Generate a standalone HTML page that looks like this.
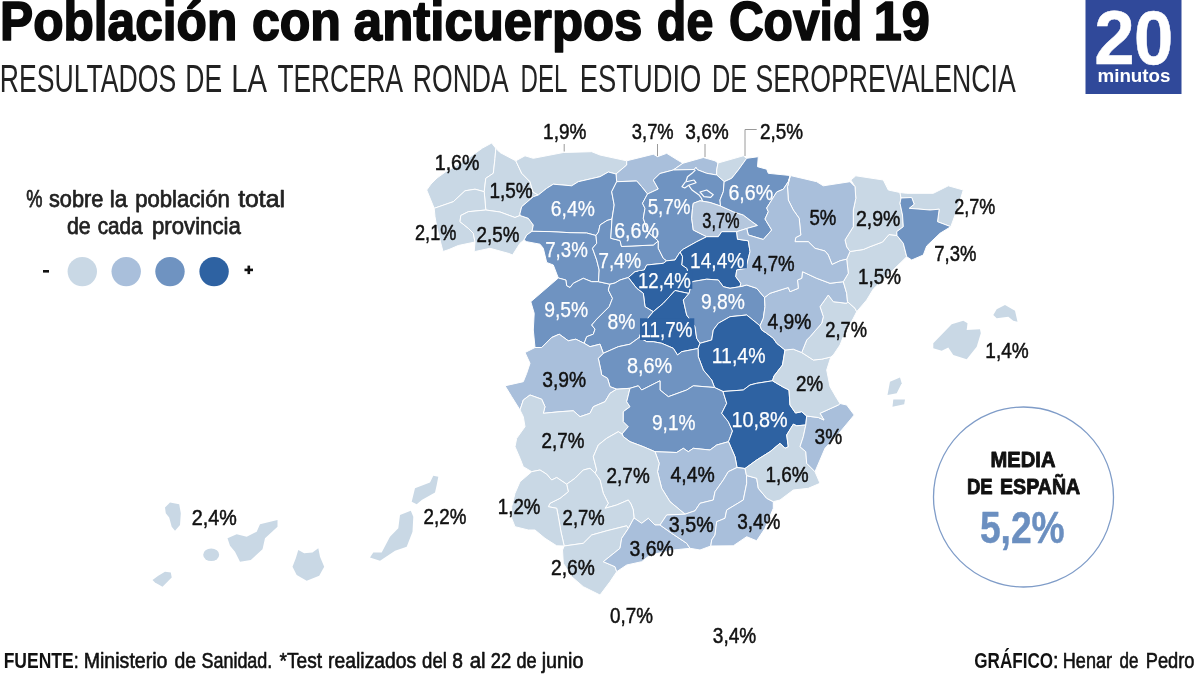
<!DOCTYPE html><html><head><meta charset="utf-8"><title>Población con anticuerpos de Covid 19</title>
<style>html,body{margin:0;padding:0;background:#fff}svg{display:block}text{font-family:"Liberation Sans",sans-serif}</style></head><body>
<svg width="1200" height="675" viewBox="0 0 1200 675">
<rect width="1200" height="675" fill="#fff"/>
<text x="0.03" y="39.80" font-size="54.6" font-weight="bold" fill="#0a0a0a" stroke="#0a0a0a" stroke-width="1.70" stroke-linejoin="round" textLength="237.20" lengthAdjust="spacingAndGlyphs">Población</text>
<text x="251.89" y="39.80" font-size="54.6" font-weight="bold" fill="#0a0a0a" stroke="#0a0a0a" stroke-width="1.70" stroke-linejoin="round" textLength="89.06" lengthAdjust="spacingAndGlyphs">con</text>
<text x="353.86" y="39.80" font-size="54.6" font-weight="bold" fill="#0a0a0a" stroke="#0a0a0a" stroke-width="1.70" stroke-linejoin="round" textLength="288.58" lengthAdjust="spacingAndGlyphs">anticuerpos</text>
<text x="656.87" y="39.80" font-size="54.6" font-weight="bold" fill="#0a0a0a" stroke="#0a0a0a" stroke-width="1.70" stroke-linejoin="round" textLength="56.44" lengthAdjust="spacingAndGlyphs">de</text>
<text x="728.88" y="39.80" font-size="54.6" font-weight="bold" fill="#0a0a0a" stroke="#0a0a0a" stroke-width="1.70" stroke-linejoin="round" textLength="133.44" lengthAdjust="spacingAndGlyphs">Covid</text>
<text x="873.68" y="39.80" font-size="54.6" font-weight="bold" fill="#0a0a0a" stroke="#0a0a0a" stroke-width="1.70" stroke-linejoin="round" textLength="56.04" lengthAdjust="spacingAndGlyphs">19</text>
<text x="-0.13" y="91.80" font-size="38" fill="#222" textLength="176.33" lengthAdjust="spacingAndGlyphs">RESULTADOS</text>
<text x="185.33" y="91.80" font-size="38" fill="#222" textLength="36.81" lengthAdjust="spacingAndGlyphs">DE</text>
<text x="231.30" y="91.80" font-size="38" fill="#222" textLength="35.76" lengthAdjust="spacingAndGlyphs">LA</text>
<text x="277.41" y="91.80" font-size="38" fill="#222" textLength="125.64" lengthAdjust="spacingAndGlyphs">TERCERA</text>
<text x="412.82" y="91.80" font-size="38" fill="#222" textLength="95.93" lengthAdjust="spacingAndGlyphs">RONDA</text>
<text x="520.53" y="91.80" font-size="38" fill="#222" textLength="46.77" lengthAdjust="spacingAndGlyphs">DEL</text>
<text x="579.76" y="91.80" font-size="38" fill="#222" textLength="121.55" lengthAdjust="spacingAndGlyphs">ESTUDIO</text>
<text x="711.92" y="91.80" font-size="38" fill="#222" textLength="35.16" lengthAdjust="spacingAndGlyphs">DE</text>
<text x="755.50" y="91.80" font-size="38" fill="#222" textLength="260.25" lengthAdjust="spacingAndGlyphs">SEROPREVALENCIA</text>
<rect x="1085.5" y="0" width="96" height="94" fill="#30499a"/>
<text x="1094.23" y="63.60" font-size="76" font-weight="bold" fill="#fff" stroke="#fff" stroke-width="0.50" stroke-linejoin="round" textLength="40.43" lengthAdjust="spacingAndGlyphs">2</text>
<text x="1133.96" y="63.60" font-size="76" font-weight="bold" fill="#fff" stroke="#fff" stroke-width="0.50" stroke-linejoin="round" textLength="39.29" lengthAdjust="spacingAndGlyphs">0</text>
<text x="1097.46" y="82.20" font-size="18.5" font-weight="bold" fill="#fff" textLength="73.11" lengthAdjust="spacingAndGlyphs">minutos</text>
<text x="26.22" y="207.20" font-size="24.5" fill="#222" stroke="#222" stroke-width="0.75" stroke-linejoin="round" textLength="16.25" lengthAdjust="spacingAndGlyphs">%</text>
<text x="48.97" y="207.20" font-size="24.5" fill="#222" stroke="#222" stroke-width="0.75" stroke-linejoin="round" textLength="54.42" lengthAdjust="spacingAndGlyphs">sobre</text>
<text x="109.85" y="207.20" font-size="24.5" fill="#222" stroke="#222" stroke-width="0.75" stroke-linejoin="round" textLength="17.57" lengthAdjust="spacingAndGlyphs">la</text>
<text x="135.15" y="207.20" font-size="24.5" fill="#222" stroke="#222" stroke-width="0.75" stroke-linejoin="round" textLength="94.71" lengthAdjust="spacingAndGlyphs">población</text>
<text x="238.20" y="207.20" font-size="24.5" fill="#222" stroke="#222" stroke-width="0.75" stroke-linejoin="round" textLength="46.78" lengthAdjust="spacingAndGlyphs">total</text>
<text x="66.88" y="234.40" font-size="24.5" fill="#222" stroke="#222" stroke-width="0.75" stroke-linejoin="round" textLength="23.69" lengthAdjust="spacingAndGlyphs">de</text>
<text x="97.69" y="234.40" font-size="24.5" fill="#222" stroke="#222" stroke-width="0.75" stroke-linejoin="round" textLength="44.93" lengthAdjust="spacingAndGlyphs">cada</text>
<text x="151.94" y="234.40" font-size="24.5" fill="#222" stroke="#222" stroke-width="0.75" stroke-linejoin="round" textLength="88.88" lengthAdjust="spacingAndGlyphs">provincia</text>
<circle cx="82.3" cy="271.6" r="14.7" fill="#c9d8e5"/>
<circle cx="126.2" cy="271.6" r="14.7" fill="#a9bfdb"/>
<circle cx="170.0" cy="271.6" r="14.7" fill="#6f93c1"/>
<circle cx="214.1" cy="271.6" r="14.7" fill="#2e62a2"/>
<rect x="43" y="270" width="6" height="2.6" fill="#111"/>
<rect x="244.5" y="268.6" width="8.5" height="2.6" fill="#111"/><rect x="247.5" y="265.6" width="2.6" height="8.5" fill="#111"/>
<g stroke="#fff" stroke-width="1.0" stroke-linejoin="round">
<path d="M434.2 208.3 L426.7 190.0 L431.0 184.0 L437.0 178.0 L446.0 171.5 L458.0 164.5 L470.0 157.0 L482.5 148.0 L491.7 143.0 L495.8 148.3 L495.0 158.3 L493.3 173.3 L485.8 178.3 L484.2 191.7 L475.0 189.2 L465.0 190.8 L453.3 201.7Z" fill="#c9d8e5"/>
<path d="M495.8 148.3 L500.0 152.5 L515.8 160.8 L521.7 173.3 L530.0 181.7 L533.0 192.0 L538.3 195.0 L533.3 196.7 L521.7 206.7 L520.0 213.3 L520.0 215.5 L515.0 217.5 L500.0 212.0 L485.8 210.0 L484.2 191.7 L485.8 178.3 L493.3 173.3 L495.0 158.3Z" fill="#c9d8e5"/>
<path d="M434.2 208.3 L453.3 201.7 L465.0 190.8 L475.0 189.2 L484.2 191.7 L485.8 210.0 L468.3 211.7 L460.8 215.5 L460.0 221.7 L468.3 228.3 L473.3 233.3 L475.0 242.0 L458.3 245.5 L449.0 249.5 L443.0 251.5 L440.0 240.0 L437.0 228.0 L435.0 216.7Z" fill="#c9d8e5"/>
<path d="M485.8 210.0 L500.0 212.0 L515.0 217.5 L520.0 215.5 L528.3 218.3 L533.3 225.0 L532.0 231.3 L526.7 235.0 L524.0 240.0 L520.0 243.3 L512.5 255.0 L509.0 253.5 L490.0 248.3 L474.2 251.7 L475.0 242.0 L473.3 233.3 L468.3 228.3 L460.0 221.7 L460.8 215.5 L468.3 211.7Z" fill="#c9d8e5"/>
<path d="M515.8 160.8 L525.0 155.8 L533.3 158.3 L563.3 152.5 L591.7 151.7 L600.0 155.0 L626.7 160.8 L626.7 165.0 L616.0 174.0 L608.3 172.0 L600.0 176.7 L578.3 181.7 L571.7 185.8 L553.3 184.2 L546.7 188.3 L538.3 195.0 L533.0 192.0 L530.0 181.7 L521.7 173.3Z" fill="#c9d8e5"/>
<path d="M626.7 160.8 L640.0 157.5 L653.3 154.2 L657.5 156.7 L666.7 153.3 L678.3 160.5 L683.0 163.2 L673.3 170.0 L660.0 173.5 L653.3 180.0 L658.3 189.0 L647.5 194.0 L641.7 186.7 L636.7 181.0 L616.7 181.7 L616.0 174.0 L626.7 165.0Z" fill="#a9bfdb"/>
<path d="M683.0 163.2 L703.3 157.5 L715.0 160.8 L718.0 163.0 L716.7 170.0 L716.7 175.0 L706.7 173.3 L697.5 169.8 L695.8 167.3 L694.5 169.5 L673.3 170.0Z" fill="#a9bfdb"/>
<path d="M718.0 163.0 L743.3 155.8 L746.7 158.3 L738.3 170.0 L731.7 178.3 L724.2 181.7 L716.7 175.0 L716.7 170.0Z" fill="#c9d8e5"/>
<path d="M538.3 195.0 L546.7 188.3 L553.3 184.2 L571.7 185.8 L578.3 181.7 L600.0 176.7 L608.3 172.0 L616.0 174.0 L616.7 181.7 L611.7 191.7 L614.2 205.0 L612.0 219.0 L607.0 220.5 L600.0 225.0 L598.5 232.0 L596.0 235.5 L586.7 233.0 L570.0 232.7 L550.0 231.6 L532.0 231.3 L533.3 225.0 L528.3 218.3 L520.0 215.5 L520.0 213.3 L521.7 206.7 L533.3 196.7Z" fill="#6f93c1"/>
<path d="M532.0 231.3 L550.0 231.6 L570.0 232.7 L586.7 233.0 L596.0 235.5 L596.7 243.3 L592.5 248.3 L596.7 260.0 L599.2 270.0 L598.5 281.7 L591.7 281.7 L583.3 278.3 L573.3 283.3 L570.0 287.5 L566.7 285.8 L565.8 280.0 L558.3 278.0 L553.3 265.0 L546.7 262.5 L543.3 248.3 L540.0 244.2 L526.7 241.7 L524.0 240.0 L526.7 235.0Z" fill="#6f93c1"/>
<path d="M558.3 278.0 L565.8 280.0 L566.7 285.8 L570.0 287.5 L573.3 283.3 L583.3 278.3 L591.7 281.7 L598.5 281.7 L610.0 284.2 L608.3 290.0 L612.5 298.3 L609.2 306.7 L596.7 319.2 L591.7 325.0 L595.0 329.2 L593.3 334.2 L586.7 336.7 L584.2 343.3 L575.8 339.2 L568.3 340.8 L559.2 334.2 L551.7 337.5 L541.7 347.5 L535.0 347.5 L533.3 330.0 L534.2 313.3 L530.8 301.7Z" fill="#6f93c1"/>
<path d="M596.0 235.5 L598.5 232.0 L600.0 225.0 L607.0 220.5 L612.0 219.0 L610.8 238.3 L620.0 240.5 L621.5 246.5 L653.3 245.0 L658.3 241.0 L658.3 248.3 L663.3 258.3 L666.7 260.8 L663.3 263.3 L646.7 265.0 L644.2 270.0 L635.0 271.7 L628.3 277.5 L620.0 280.0 L615.0 283.0 L610.0 284.2 L598.5 281.7 L599.2 270.0 L596.7 260.0 L592.5 248.3 L596.7 243.3Z" fill="#6f93c1"/>
<path d="M616.7 181.7 L636.7 181.0 L641.7 186.7 L647.5 194.0 L642.5 203.3 L645.0 208.3 L643.3 218.3 L648.0 232.0 L658.3 241.0 L653.3 245.0 L621.5 246.5 L620.0 240.5 L610.8 238.3 L612.0 219.0 L614.2 205.0 L611.7 191.7Z" fill="#6f93c1"/>
<path d="M647.5 194.0 L658.3 189.0 L653.3 180.0 L660.0 173.5 L673.3 170.0 L694.5 169.5 L695.8 167.3 L697.5 169.8 L706.7 173.3 L716.7 175.0 L724.2 181.7 L723.3 191.7 L720.0 200.0 L720.5 206.0 L710.0 202.5 L700.0 200.8 L693.3 203.3 L692.5 208.3 L691.7 218.3 L693.3 230.0 L703.3 235.0 L706.7 236.7 L696.7 241.7 L683.3 249.2 L680.0 252.0 L675.0 260.0 L666.7 260.8 L663.3 258.3 L658.3 248.3 L658.3 241.0 L648.0 232.0 L643.3 218.3 L645.0 208.3 L642.5 203.3Z" fill="#6f93c1"/>
<path d="M706.7 236.7 L703.3 235.0 L693.3 230.0 L691.7 218.3 L692.5 208.3 L693.3 203.3 L700.0 200.8 L710.0 202.5 L720.5 206.0 L733.3 211.7 L743.3 215.0 L752.0 221.7 L757.5 225.5 L746.7 228.5 L736.7 231.7 L721.7 231.7 L718.3 236.7Z" fill="#b5c7dd"/>
<path d="M724.2 181.7 L731.7 178.3 L738.3 170.0 L746.7 158.3 L758.3 156.7 L757.5 166.7 L766.7 169.2 L768.3 173.3 L790.3 175.5 L788.3 181.7 L783.3 189.2 L776.7 192.0 L771.7 200.0 L766.7 208.0 L768.3 211.7 L765.0 219.0 L771.7 230.0 L763.3 239.5 L748.3 235.0 L746.7 228.5 L757.5 225.5 L752.0 221.7 L743.3 215.0 L733.3 211.7 L720.5 206.0 L720.0 200.0 L723.3 191.7Z" fill="#6f93c1"/>
<path d="M706.7 236.7 L718.3 236.7 L721.7 231.7 L736.7 231.7 L737.5 239.2 L748.3 240.8 L750.0 251.7 L746.7 265.0 L746.7 268.3 L736.7 270.0 L735.8 276.7 L740.8 283.3 L740.0 286.7 L730.0 288.3 L723.3 286.7 L718.3 280.0 L706.7 279.2 L692.0 281.7 L688.3 273.3 L686.7 268.3 L681.7 265.0 L682.5 256.7 L680.0 252.0 L683.3 249.2 L696.7 241.7Z" fill="#2e62a2"/>
<path d="M628.3 277.5 L635.0 271.7 L644.2 270.0 L646.7 265.0 L663.3 263.3 L666.7 260.8 L675.0 260.0 L680.0 252.0 L682.5 256.7 L681.7 265.0 L686.7 268.3 L688.3 273.3 L692.0 281.7 L689.0 293.5 L675.0 290.5 L663.3 303.3 L653.3 311.7 L645.0 306.7 L643.3 293.3 L636.7 288.3Z" fill="#2e62a2"/>
<path d="M610.0 284.2 L615.0 283.0 L620.0 280.0 L628.3 277.5 L636.7 288.3 L643.3 293.3 L645.0 306.7 L653.3 311.7 L648.0 318.0 L642.0 330.0 L639.2 337.5 L630.0 344.2 L618.3 346.7 L603.3 353.3 L600.0 344.2 L590.0 346.7 L584.2 343.3 L586.7 336.7 L593.3 334.2 L595.0 329.2 L591.7 325.0 L596.7 319.2 L609.2 306.7 L612.5 298.3 L608.3 290.0Z" fill="#6f93c1"/>
<path d="M653.3 311.7 L663.3 303.3 L675.0 290.5 L689.0 293.5 L683.3 300.0 L686.7 315.0 L695.0 326.7 L696.7 338.3 L700.0 343.3 L698.0 348.5 L681.7 351.7 L677.5 355.0 L673.3 348.3 L661.7 343.3 L653.3 341.7 L646.7 341.7 L639.2 337.5 L642.0 330.0 L648.0 318.0Z" fill="#2e62a2"/>
<path d="M689.0 293.5 L692.0 281.7 L706.7 279.2 L718.3 280.0 L723.3 286.7 L730.0 288.3 L740.0 286.7 L746.7 285.0 L756.7 288.3 L764.5 297.5 L765.0 306.7 L763.3 318.3 L760.0 325.8 L746.7 315.0 L730.0 316.7 L718.3 323.3 L713.3 330.0 L711.7 340.0 L700.0 343.3 L696.7 338.3 L695.0 326.7 L686.7 315.0 L683.3 300.0Z" fill="#6f93c1"/>
<path d="M700.0 343.3 L711.7 340.0 L713.3 330.0 L718.3 323.3 L730.0 316.7 L746.7 315.0 L760.0 325.8 L761.7 330.0 L766.7 333.3 L773.3 338.3 L776.7 343.3 L785.0 350.0 L782.5 365.0 L774.0 376.0 L772.5 380.8 L756.7 383.3 L750.0 385.0 L743.3 390.0 L730.0 391.0 L723.0 391.5 L714.5 387.5 L711.7 380.0 L703.3 370.0 L698.3 356.7 L698.0 348.5Z" fill="#2e62a2"/>
<path d="M603.3 353.3 L618.3 346.7 L630.0 344.2 L639.2 337.5 L646.7 341.7 L653.3 341.7 L661.7 343.3 L673.3 348.3 L677.5 355.0 L681.7 351.7 L698.0 348.5 L698.3 356.7 L703.3 370.0 L711.7 380.0 L714.5 387.5 L693.3 385.8 L686.7 390.0 L668.3 396.7 L660.0 390.0 L660.0 380.8 L641.7 390.0 L638.3 385.8 L630.0 388.3 L616.7 389.2 L610.0 386.7 L607.5 378.3 L601.7 375.0 L600.8 370.0 L598.3 358.3Z" fill="#6f93c1"/>
<path d="M535.0 347.5 L541.7 347.5 L551.7 337.5 L559.2 334.2 L568.3 340.8 L575.8 339.2 L584.2 343.3 L590.0 346.7 L600.0 344.2 L603.3 353.3 L598.3 358.3 L600.8 370.0 L601.7 375.0 L607.5 378.3 L610.0 386.7 L616.7 389.2 L610.0 393.3 L605.0 401.7 L593.3 406.7 L590.0 413.3 L580.0 416.7 L573.3 410.8 L560.0 411.7 L543.3 413.3 L545.0 406.7 L541.7 399.2 L530.0 395.0 L523.3 400.0 L520.0 410.0 L511.7 396.7 L505.0 385.8 L523.3 381.7 L526.7 373.3 L530.0 363.3 L525.0 352.5Z" fill="#a9bfdb"/>
<path d="M520.0 410.0 L523.3 400.0 L530.0 395.0 L541.7 399.2 L545.0 406.7 L543.3 413.3 L560.0 411.7 L573.3 410.8 L580.0 416.7 L590.0 413.3 L593.3 406.7 L605.0 401.7 L610.0 393.3 L616.7 389.2 L630.0 388.3 L626.7 401.7 L630.0 406.7 L623.3 411.7 L623.3 421.7 L628.3 426.7 L622.0 434.0 L618.3 431.7 L606.7 438.3 L598.3 445.0 L593.3 456.7 L596.7 470.0 L595.0 473.0 L590.0 468.3 L583.3 470.0 L575.0 478.3 L566.7 484.2 L556.7 477.5 L551.7 480.0 L546.7 474.2 L540.0 470.0 L531.7 471.7 L523.3 466.7 L520.0 458.3 L515.0 446.7 L516.7 438.3 L525.0 426.7 L523.3 416.7Z" fill="#c9d8e5"/>
<path d="M630.0 388.3 L638.3 385.8 L641.7 390.0 L660.0 380.8 L660.0 390.0 L668.3 396.7 L686.7 390.0 L693.3 385.8 L714.5 387.5 L723.0 391.5 L726.7 403.3 L721.7 413.3 L728.3 421.7 L732.5 431.0 L728.5 441.7 L716.7 445.0 L710.0 450.0 L693.3 448.3 L688.3 451.7 L683.3 448.3 L676.7 452.5 L655.0 451.7 L643.3 446.7 L630.0 441.7 L623.3 436.7 L622.0 434.0 L628.3 426.7 L623.3 421.7 L623.3 411.7 L630.0 406.7 L626.7 401.7Z" fill="#6f93c1"/>
<path d="M723.0 391.5 L730.0 391.0 L743.3 390.0 L750.0 385.0 L756.7 383.3 L772.5 380.8 L783.0 387.0 L789.0 390.0 L790.0 405.0 L795.5 413.0 L801.7 411.7 L806.7 416.0 L805.8 425.0 L796.7 425.8 L793.3 424.2 L786.7 435.0 L788.3 446.7 L785.0 448.3 L780.0 443.3 L770.0 451.7 L756.7 460.0 L745.0 468.5 L737.0 467.5 L735.0 456.7 L728.5 441.7 L732.5 431.0 L728.3 421.7 L721.7 413.3 L726.7 403.3Z" fill="#2e62a2"/>
<path d="M655.0 451.7 L676.7 452.5 L683.3 448.3 L688.3 451.7 L693.3 448.3 L710.0 450.0 L716.7 445.0 L728.5 441.7 L735.0 456.7 L737.0 467.5 L728.3 471.7 L723.3 480.0 L715.0 491.7 L713.3 500.0 L700.0 503.3 L695.0 510.8 L685.0 514.2 L680.0 510.0 L670.0 501.7 L661.7 488.3 L657.5 471.7 L659.2 463.3Z" fill="#a9bfdb"/>
<path d="M622.0 434.0 L623.3 436.7 L630.0 441.7 L643.3 446.7 L655.0 451.7 L659.2 463.3 L657.5 471.7 L661.7 488.3 L670.0 501.7 L680.0 510.0 L685.0 514.2 L666.7 515.0 L660.0 525.0 L655.0 525.0 L648.3 518.3 L641.7 523.3 L634.0 518.0 L633.3 510.0 L631.0 504.0 L628.3 500.0 L616.7 505.0 L605.0 508.3 L608.3 503.3 L603.3 493.3 L600.0 480.0 L595.0 473.0 L596.7 470.0 L593.3 456.7 L598.3 445.0 L606.7 438.3 L618.3 431.7Z" fill="#c9d8e5"/>
<path d="M566.7 484.2 L575.0 478.3 L583.3 470.0 L590.0 468.3 L595.0 473.0 L600.0 480.0 L603.3 493.3 L608.3 503.3 L605.0 508.3 L616.7 505.0 L628.3 500.0 L631.0 504.0 L633.3 510.0 L634.0 518.0 L628.3 528.5 L626.7 525.8 L606.7 530.8 L591.7 535.0 L583.3 543.3 L564.2 546.0 L561.0 532.0 L558.3 516.7 L556.7 508.3 L548.3 506.7 L550.0 503.3 L560.0 498.3 L568.3 491.7Z" fill="#c9d8e5"/>
<path d="M531.7 471.7 L540.0 470.0 L546.7 474.2 L551.7 480.0 L556.7 477.5 L566.7 484.2 L568.3 491.7 L560.0 498.3 L550.0 503.3 L548.3 506.7 L556.7 508.3 L558.3 516.7 L561.0 532.0 L564.2 546.0 L556.7 545.8 L545.0 538.3 L535.0 530.0 L528.3 530.0 L515.0 526.7 L511.7 518.3 L511.7 506.7 L515.0 493.3 L520.0 481.7Z" fill="#c9d8e5"/>
<path d="M564.2 546.0 L583.3 543.3 L591.7 535.0 L606.7 530.8 L626.7 525.8 L628.3 528.5 L621.7 538.3 L620.0 548.3 L603.3 561.7 L615.0 566.7 L616.7 571.7 L610.0 581.7 L600.0 595.0 L583.3 586.7 L571.7 576.7 L563.3 563.3 L562.5 550.0Z" fill="#c9d8e5"/>
<path d="M634.0 518.0 L641.7 523.3 L648.3 518.3 L655.0 525.0 L660.0 525.0 L671.7 533.3 L686.7 543.3 L690.0 548.3 L673.3 550.0 L650.0 555.0 L641.7 561.7 L626.7 565.0 L616.7 571.7 L615.0 566.7 L603.3 561.7 L620.0 548.3 L621.7 538.3 L628.3 528.5Z" fill="#a9bfdb"/>
<path d="M685.0 514.2 L695.0 510.8 L700.0 503.3 L713.3 500.0 L715.0 491.7 L723.3 480.0 L728.3 471.7 L737.0 467.5 L745.0 468.5 L746.5 475.5 L746.7 483.3 L743.3 500.0 L726.7 510.0 L725.0 518.3 L716.7 521.7 L715.0 535.0 L711.7 540.0 L710.8 546.0 L700.0 550.0 L690.0 548.3 L686.7 543.3 L671.7 533.3 L660.0 525.0 L666.7 515.0Z" fill="#a9bfdb"/>
<path d="M746.5 475.5 L756.7 478.3 L758.3 488.3 L766.7 498.3 L773.3 501.7 L773.3 508.3 L765.0 528.3 L756.7 540.8 L746.7 536.7 L733.3 545.8 L710.8 546.0 L711.7 540.0 L715.0 535.0 L716.7 521.7 L725.0 518.3 L726.7 510.0 L743.3 500.0 L746.7 483.3Z" fill="#a9bfdb"/>
<path d="M745.0 468.5 L756.7 460.0 L770.0 451.7 L780.0 443.3 L785.0 448.3 L788.3 446.7 L786.7 435.0 L793.3 424.2 L796.7 425.8 L805.8 425.0 L803.3 436.7 L800.0 446.7 L805.8 451.7 L806.7 463.3 L815.0 471.7 L820.0 483.3 L808.3 488.3 L793.3 490.0 L780.0 500.0 L773.3 501.7 L766.7 498.3 L758.3 488.3 L756.7 478.3 L746.5 475.5Z" fill="#c9d8e5"/>
<path d="M806.7 416.0 L818.3 417.5 L824.0 420.0 L820.0 413.3 L838.3 405.0 L840.0 403.5 L846.7 405.0 L854.2 415.0 L841.7 430.0 L825.0 448.3 L815.0 471.7 L806.7 463.3 L805.8 451.7 L800.0 446.7 L803.3 436.7 L805.8 425.0Z" fill="#a9bfdb"/>
<path d="M785.0 350.0 L793.3 349.2 L801.7 352.5 L813.3 360.0 L821.7 359.2 L830.8 357.0 L826.7 370.0 L830.0 386.7 L836.7 398.3 L840.0 403.5 L838.3 405.0 L820.0 413.3 L824.0 420.0 L818.3 417.5 L806.7 416.0 L801.7 411.7 L795.5 413.0 L790.0 405.0 L789.0 390.0 L783.0 387.0 L772.5 380.8 L774.0 376.0 L782.5 365.0Z" fill="#c9d8e5"/>
<path d="M801.7 352.5 L806.7 340.0 L810.0 336.7 L821.7 323.3 L823.3 316.7 L820.0 306.7 L828.3 295.0 L833.3 301.7 L846.7 303.3 L847.5 301.7 L855.0 308.3 L856.7 311.7 L853.3 318.3 L843.3 336.7 L840.0 345.0 L833.3 355.0 L830.8 357.0 L821.7 359.2 L813.3 360.0Z" fill="#c9d8e5"/>
<path d="M760.0 325.8 L763.3 318.3 L765.0 306.7 L764.5 297.5 L770.0 293.3 L788.3 287.5 L790.0 291.7 L798.3 288.3 L797.5 280.0 L801.7 278.3 L802.5 271.7 L816.7 278.3 L830.0 283.3 L843.3 281.7 L846.7 293.3 L847.5 301.7 L846.7 303.3 L833.3 301.7 L828.3 295.0 L820.0 306.7 L823.3 316.7 L821.7 323.3 L810.0 336.7 L806.7 340.0 L801.7 352.5 L793.3 349.2 L785.0 350.0 L776.7 343.3 L773.3 338.3 L766.7 333.3 L761.7 330.0Z" fill="#a9bfdb"/>
<path d="M843.3 281.7 L848.3 273.3 L846.7 259.2 L850.0 251.5 L863.3 249.5 L870.0 246.7 L882.5 242.0 L889.0 234.5 L897.0 235.5 L903.3 243.3 L906.7 256.7 L900.0 263.3 L873.3 289.0 L866.7 300.0 L856.7 311.7 L855.0 308.3 L847.5 301.7 L846.7 293.3Z" fill="#c9d8e5"/>
<path d="M900.0 192.5 L888.3 190.0 L883.3 180.0 L855.8 175.8 L850.8 180.0 L855.0 186.7 L855.8 198.3 L853.3 210.0 L853.3 226.7 L845.0 240.0 L846.7 247.0 L850.0 251.5 L863.3 249.5 L870.0 246.7 L882.5 242.0 L889.0 234.5 L897.0 235.5 L896.7 231.7 L903.3 226.7 L902.5 215.0 L900.0 203.3 L901.0 198.0Z" fill="#c9d8e5"/>
<path d="M855.0 186.7 L850.0 181.7 L823.3 185.8 L816.7 181.7 L790.3 175.5 L787.5 186.7 L788.3 200.0 L793.3 210.0 L799.2 218.3 L800.8 235.0 L795.8 237.5 L795.0 241.7 L808.3 241.7 L815.0 248.3 L825.0 251.0 L828.3 255.0 L832.0 264.5 L840.0 260.8 L846.7 259.2 L850.0 251.5 L846.7 247.0 L845.0 240.0 L853.3 226.7 L853.3 210.0 L855.8 198.3Z" fill="#a9bfdb"/>
<path d="M900.0 192.5 L906.7 193.3 L933.3 193.3 L948.3 185.8 L963.3 190.0 L958.0 207.0 L950.8 226.7 L937.5 221.7 L939.2 209.2 L930.0 210.0 L909.2 208.3 L914.2 204.2 L911.7 197.5 L901.0 198.0Z" fill="#c9d8e5"/>
<path d="M901.0 198.0 L911.7 197.5 L914.2 204.2 L909.2 208.3 L930.0 210.0 L939.2 209.2 L937.5 221.7 L950.8 226.7 L940.0 233.3 L926.7 246.0 L923.3 255.0 L911.7 260.0 L906.7 256.7 L903.3 243.3 L897.0 235.5 L896.7 231.7 L903.3 226.7 L902.5 215.0 L900.0 203.3Z" fill="#6f93c1"/>
<path d="M790.3 175.5 L787.5 186.7 L788.3 200.0 L793.3 210.0 L799.2 218.3 L800.8 235.0 L795.8 237.5 L795.0 241.7 L808.3 241.7 L815.0 248.3 L825.0 251.0 L828.3 255.0 L832.0 264.5 L840.0 260.8 L846.7 259.2 L848.3 273.3 L843.3 281.7 L830.0 283.3 L816.7 278.3 L802.5 271.7 L801.7 278.3 L797.5 280.0 L798.3 288.3 L790.0 291.7 L788.3 287.5 L770.0 293.3 L764.5 297.5 L756.7 288.3 L746.7 285.0 L740.0 286.7 L740.8 283.3 L735.8 276.7 L736.7 270.0 L746.7 268.3 L746.7 265.0 L750.0 251.7 L748.3 240.8 L737.5 239.2 L736.7 231.7 L746.7 228.5 L748.3 235.0 L763.3 239.5 L771.7 230.0 L765.0 219.0 L768.3 211.7 L766.7 208.0 L771.7 200.0 L776.7 192.0 L783.3 189.2 L788.3 181.7Z" fill="#a9bfdb"/>
</g>
<g fill="none" stroke="#fff" stroke-width="1.2" stroke-linejoin="round">
<path d="M695.5 169.8 L692 173.3 L687.5 176.7 L686 181.5"/>
<path d="M682 186.7 L685.3 182 L694 180 L696 182.7 L688.7 185.3 L684.7 188Z"/>
<path d="M688.7 185.3 L692 190 L698.7 194.7 L701.3 198 L702.5 201"/>
<path d="M700 192 L706.7 190 L713.3 194.7 L710.7 197.3 L704 196.7Z"/>
</g>
<g fill="#c9d8e5">
<path d="M933.3 343.3 L951.7 324.2 L963.3 320.8 L967.5 323.3 L966.7 330.0 L980.0 329.2 L980.8 333.3 L976.7 346.7 L966.7 359.2 L953.3 355.0 L948.3 347.5 L941.7 350.8 L933.3 348.3Z"/>
<path d="M993.3 315.0 L996.7 309.2 L1005.0 305.0 L1015.0 310.8 L1017.5 321.7 L1013.3 320.8 L1008.3 316.7 L996.7 318.3Z"/>
<path d="M900.0 377.5 L901.7 383.3 L896.7 393.3 L887.5 395.0 L890.0 381.7Z"/>
<path d="M893.3 399.5 L905.0 399.5 L904.2 404.2 L892.5 406.7Z"/>
<path d="M165.0 507.5 L170.0 502.5 L179.2 504.2 L180.8 513.3 L180.0 525.0 L175.0 530.8 L171.7 526.7 L169.2 517.5 L165.8 513.3Z"/>
<path d="M152.5 580.0 L158.3 575.8 L165.0 571.7 L170.8 572.5 L171.7 577.5 L162.5 586.7 L155.0 582.5Z"/>
<path d="M227.5 538.3 L236.7 534.2 L246.7 536.7 L256.7 531.7 L260.0 524.2 L277.5 520.0 L277.5 526.7 L265.0 538.3 L262.5 549.2 L250.8 560.0 L240.0 561.7 L235.0 551.7 L230.0 545.8Z"/>
<path d="M298.3 550.0 L304.2 553.3 L312.5 552.5 L318.3 548.3 L320.0 556.7 L324.2 566.7 L319.2 575.8 L306.7 580.8 L296.7 575.0 L292.5 566.7 L295.8 558.3Z"/>
<path d="M411.7 501.7 L415.0 488.3 L430.0 482.5 L433.3 475.8 L438.3 476.7 L436.7 485.0 L435.0 492.5 L421.7 500.0 L416.7 504.2Z"/>
<path d="M400.0 515.0 L410.8 510.8 L413.3 516.7 L412.5 531.7 L406.7 546.7 L395.0 550.8 L380.0 560.8 L370.0 557.5 L373.3 552.5 L381.7 552.5 L390.0 536.7 L398.3 528.3Z"/>
<ellipse cx="211.2" cy="554.7" rx="8" ry="6.3"/>
</g>
<g fill="none" stroke="#9a9a9a" stroke-width="1">
<path d="M564.2 144V151.5"/><path d="M657.5 144V156"/><path d="M705 144V157"/><path d="M756.7 129.5H745V156"/>
</g>
<rect x="640" y="318.3" width="54.3" height="21.7" fill="#2e62a2"/>
<rect x="638.5" y="270.9" width="53.8" height="18" fill="#2e62a2"/>
<rect x="690.5" y="250.5" width="56.4" height="18" fill="#2e62a2"/>
<text x="543.10" y="139.40" font-size="22.2" fill="#111" stroke="#111" stroke-width="0.50" stroke-linejoin="round" textLength="43.33" lengthAdjust="spacingAndGlyphs">1,9%</text>
<text x="631.85" y="139.40" font-size="22.2" fill="#111" stroke="#111" stroke-width="0.50" stroke-linejoin="round" textLength="41.85" lengthAdjust="spacingAndGlyphs">3,7%</text>
<text x="685.22" y="139.40" font-size="22.2" fill="#111" stroke="#111" stroke-width="0.50" stroke-linejoin="round" textLength="43.51" lengthAdjust="spacingAndGlyphs">3,6%</text>
<text x="760.00" y="139.40" font-size="22.2" fill="#111" stroke="#111" stroke-width="0.50" stroke-linejoin="round" textLength="43.13" lengthAdjust="spacingAndGlyphs">2,5%</text>
<text x="434.76" y="170.10" font-size="22.2" fill="#111" stroke="#111" stroke-width="0.50" stroke-linejoin="round" textLength="44.69" lengthAdjust="spacingAndGlyphs">1,6%</text>
<text x="489.51" y="198.40" font-size="22.2" fill="#111" stroke="#111" stroke-width="0.50" stroke-linejoin="round" textLength="43.22" lengthAdjust="spacingAndGlyphs">1,5%</text>
<text x="550.84" y="216.10" font-size="22.2" fill="#fff" stroke="#fff" stroke-width="0.25" stroke-linejoin="round" textLength="44.02" lengthAdjust="spacingAndGlyphs">6,4%</text>
<text x="647.67" y="214.40" font-size="22.2" fill="#fff" stroke="#fff" stroke-width="0.25" stroke-linejoin="round" textLength="42.87" lengthAdjust="spacingAndGlyphs">5,7%</text>
<text x="728.43" y="200.10" font-size="22.2" fill="#fff" stroke="#fff" stroke-width="0.25" stroke-linejoin="round" textLength="44.85" lengthAdjust="spacingAndGlyphs">6,6%</text>
<text x="702.33" y="228.40" font-size="22.2" fill="#111" stroke="#111" stroke-width="0.50" stroke-linejoin="round" textLength="37.31" lengthAdjust="spacingAndGlyphs">3,7%</text>
<text x="614.13" y="238.40" font-size="22.2" fill="#fff" stroke="#fff" stroke-width="0.25" stroke-linejoin="round" textLength="44.75" lengthAdjust="spacingAndGlyphs">6,6%</text>
<text x="415.04" y="240.10" font-size="22.2" fill="#111" stroke="#111" stroke-width="0.50" stroke-linejoin="round" textLength="41.36" lengthAdjust="spacingAndGlyphs">2,1%</text>
<text x="476.61" y="241.80" font-size="22.2" fill="#111" stroke="#111" stroke-width="0.50" stroke-linejoin="round" textLength="42.81" lengthAdjust="spacingAndGlyphs">2,5%</text>
<text x="545.17" y="256.80" font-size="22.2" fill="#fff" stroke="#fff" stroke-width="0.25" stroke-linejoin="round" textLength="42.68" lengthAdjust="spacingAndGlyphs">7,3%</text>
<text x="598.46" y="268.40" font-size="22.2" fill="#fff" stroke="#fff" stroke-width="0.25" stroke-linejoin="round" textLength="42.78" lengthAdjust="spacingAndGlyphs">7,4%</text>
<text x="690.07" y="267.50" font-size="22.2" fill="#fff" stroke="#fff" stroke-width="0.25" stroke-linejoin="round" textLength="54.29" lengthAdjust="spacingAndGlyphs">14,4%</text>
<text x="752.12" y="271.40" font-size="22.2" fill="#111" stroke="#111" stroke-width="0.50" stroke-linejoin="round" textLength="42.59" lengthAdjust="spacingAndGlyphs">4,7%</text>
<text x="637.91" y="287.50" font-size="22.2" fill="#fff" stroke="#fff" stroke-width="0.25" stroke-linejoin="round" textLength="52.83" lengthAdjust="spacingAndGlyphs">12,4%</text>
<text x="544.22" y="316.80" font-size="22.2" fill="#fff" stroke="#fff" stroke-width="0.25" stroke-linejoin="round" textLength="44.04" lengthAdjust="spacingAndGlyphs">9,5%</text>
<text x="700.92" y="309.40" font-size="22.2" fill="#fff" stroke="#fff" stroke-width="0.25" stroke-linejoin="round" textLength="43.94" lengthAdjust="spacingAndGlyphs">9,8%</text>
<text x="809.50" y="225.10" font-size="22.2" fill="#111" stroke="#111" stroke-width="0.50" stroke-linejoin="round" textLength="26.91" lengthAdjust="spacingAndGlyphs">5%</text>
<text x="855.97" y="226.10" font-size="22.2" fill="#111" stroke="#111" stroke-width="0.50" stroke-linejoin="round" textLength="44.48" lengthAdjust="spacingAndGlyphs">2,9%</text>
<text x="954.34" y="214.10" font-size="22.2" fill="#111" stroke="#111" stroke-width="0.50" stroke-linejoin="round" textLength="41.05" lengthAdjust="spacingAndGlyphs">2,7%</text>
<text x="934.30" y="260.80" font-size="22.2" fill="#111" stroke="#111" stroke-width="0.50" stroke-linejoin="round" textLength="42.11" lengthAdjust="spacingAndGlyphs">7,3%</text>
<text x="858.11" y="284.40" font-size="22.2" fill="#111" stroke="#111" stroke-width="0.50" stroke-linejoin="round" textLength="43.01" lengthAdjust="spacingAndGlyphs">1,5%</text>
<text x="607.58" y="329.40" font-size="22.2" fill="#fff" stroke="#fff" stroke-width="0.25" stroke-linejoin="round" textLength="27.98" lengthAdjust="spacingAndGlyphs">8%</text>
<text x="640.53" y="336.60" font-size="22.2" fill="#fff" stroke="#fff" stroke-width="0.25" stroke-linejoin="round" textLength="52.00" lengthAdjust="spacingAndGlyphs">11,7%</text>
<text x="767.51" y="328.80" font-size="22.2" fill="#111" stroke="#111" stroke-width="0.50" stroke-linejoin="round" textLength="43.93" lengthAdjust="spacingAndGlyphs">4,9%</text>
<text x="711.68" y="363.10" font-size="22.2" fill="#fff" stroke="#fff" stroke-width="0.25" stroke-linejoin="round" textLength="53.87" lengthAdjust="spacingAndGlyphs">11,4%</text>
<text x="626.96" y="373.40" font-size="22.2" fill="#fff" stroke="#fff" stroke-width="0.25" stroke-linejoin="round" textLength="45.32" lengthAdjust="spacingAndGlyphs">8,6%</text>
<text x="542.22" y="386.80" font-size="22.2" fill="#111" stroke="#111" stroke-width="0.50" stroke-linejoin="round" textLength="43.92" lengthAdjust="spacingAndGlyphs">3,9%</text>
<text x="651.93" y="430.10" font-size="22.2" fill="#fff" stroke="#fff" stroke-width="0.25" stroke-linejoin="round" textLength="43.63" lengthAdjust="spacingAndGlyphs">9,1%</text>
<text x="731.42" y="427.30" font-size="22.2" fill="#fff" stroke="#fff" stroke-width="0.25" stroke-linejoin="round" textLength="56.16" lengthAdjust="spacingAndGlyphs">10,8%</text>
<text x="541.61" y="448.40" font-size="22.2" fill="#111" stroke="#111" stroke-width="0.50" stroke-linejoin="round" textLength="42.81" lengthAdjust="spacingAndGlyphs">2,7%</text>
<text x="606.60" y="483.40" font-size="22.2" fill="#111" stroke="#111" stroke-width="0.50" stroke-linejoin="round" textLength="43.13" lengthAdjust="spacingAndGlyphs">2,7%</text>
<text x="670.50" y="481.80" font-size="22.2" fill="#111" stroke="#111" stroke-width="0.50" stroke-linejoin="round" textLength="44.24" lengthAdjust="spacingAndGlyphs">4,4%</text>
<text x="765.51" y="481.80" font-size="22.2" fill="#111" stroke="#111" stroke-width="0.50" stroke-linejoin="round" textLength="43.22" lengthAdjust="spacingAndGlyphs">1,6%</text>
<text x="497.83" y="514.30" font-size="22.2" fill="#111" stroke="#111" stroke-width="0.50" stroke-linejoin="round" textLength="42.59" lengthAdjust="spacingAndGlyphs">1,2%</text>
<text x="423.61" y="524.10" font-size="22.2" fill="#111" stroke="#111" stroke-width="0.50" stroke-linejoin="round" textLength="42.81" lengthAdjust="spacingAndGlyphs">2,2%</text>
<text x="825.33" y="336.80" font-size="22.2" fill="#111" stroke="#111" stroke-width="0.50" stroke-linejoin="round" textLength="41.78" lengthAdjust="spacingAndGlyphs">2,7%</text>
<text x="796.01" y="390.80" font-size="22.2" fill="#111" stroke="#111" stroke-width="0.50" stroke-linejoin="round" textLength="27.11" lengthAdjust="spacingAndGlyphs">2%</text>
<text x="814.52" y="444.10" font-size="22.2" fill="#111" stroke="#111" stroke-width="0.50" stroke-linejoin="round" textLength="27.61" lengthAdjust="spacingAndGlyphs">3%</text>
<text x="985.30" y="357.50" font-size="22.2" fill="#111" stroke="#111" stroke-width="0.50" stroke-linejoin="round" textLength="43.43" lengthAdjust="spacingAndGlyphs">1,4%</text>
<text x="562.62" y="525.10" font-size="22.2" fill="#111" stroke="#111" stroke-width="0.50" stroke-linejoin="round" textLength="42.09" lengthAdjust="spacingAndGlyphs">2,7%</text>
<text x="668.80" y="532.40" font-size="22.2" fill="#111" stroke="#111" stroke-width="0.50" stroke-linejoin="round" textLength="44.95" lengthAdjust="spacingAndGlyphs">3,5%</text>
<text x="737.23" y="529.10" font-size="22.2" fill="#111" stroke="#111" stroke-width="0.50" stroke-linejoin="round" textLength="43.20" lengthAdjust="spacingAndGlyphs">3,4%</text>
<text x="629.51" y="556.10" font-size="22.2" fill="#111" stroke="#111" stroke-width="0.50" stroke-linejoin="round" textLength="44.23" lengthAdjust="spacingAndGlyphs">3,6%</text>
<text x="550.98" y="575.10" font-size="22.2" fill="#111" stroke="#111" stroke-width="0.50" stroke-linejoin="round" textLength="43.75" lengthAdjust="spacingAndGlyphs">2,6%</text>
<text x="610.01" y="622.60" font-size="22.2" fill="#111" stroke="#111" stroke-width="0.50" stroke-linejoin="round" textLength="42.91" lengthAdjust="spacingAndGlyphs">0,7%</text>
<text x="712.82" y="642.60" font-size="22.2" fill="#111" stroke="#111" stroke-width="0.50" stroke-linejoin="round" textLength="43.40" lengthAdjust="spacingAndGlyphs">3,4%</text>
<text x="191.76" y="525.40" font-size="22.2" fill="#111" stroke="#111" stroke-width="0.50" stroke-linejoin="round" textLength="45.00" lengthAdjust="spacingAndGlyphs">2,4%</text>
<circle cx="1023.5" cy="497" r="90" fill="#fff" stroke="#7f9cc8" stroke-width="1.3"/>
<text x="990.60" y="466.70" font-size="22.6" font-weight="bold" fill="#111" stroke="#111" stroke-width="0.90" stroke-linejoin="round" textLength="64.88" lengthAdjust="spacingAndGlyphs">MEDIA</text>
<text x="966.91" y="494.00" font-size="22.6" font-weight="bold" fill="#111" stroke="#111" stroke-width="0.90" stroke-linejoin="round" textLength="25.77" lengthAdjust="spacingAndGlyphs">DE</text>
<text x="1000.06" y="494.00" font-size="22.6" font-weight="bold" fill="#111" stroke="#111" stroke-width="0.90" stroke-linejoin="round" textLength="80.09" lengthAdjust="spacingAndGlyphs">ESPAÑA</text>
<text x="979.91" y="543.40" font-size="45" font-weight="bold" fill="#6b8fc0" stroke="#6b8fc0" stroke-width="0.50" stroke-linejoin="round" textLength="84.72" lengthAdjust="spacingAndGlyphs">5,2%</text>
<text x="3.63" y="668.00" font-size="21.5" font-weight="bold" fill="#111" textLength="70.06" lengthAdjust="spacingAndGlyphs">FUENTE</text>
<text x="73.67" y="668.00" font-size="21.5" fill="#111" stroke="#111" stroke-width="0.60" stroke-linejoin="round" textLength="4.96" lengthAdjust="spacingAndGlyphs">:</text>
<text x="83.69" y="668.00" font-size="21.5" fill="#111" stroke="#111" stroke-width="0.60" stroke-linejoin="round" textLength="83.83" lengthAdjust="spacingAndGlyphs">Ministerio</text>
<text x="174.49" y="668.00" font-size="21.5" fill="#111" stroke="#111" stroke-width="0.60" stroke-linejoin="round" textLength="21.58" lengthAdjust="spacingAndGlyphs">de</text>
<text x="201.48" y="668.00" font-size="21.5" fill="#111" stroke="#111" stroke-width="0.60" stroke-linejoin="round" textLength="70.85" lengthAdjust="spacingAndGlyphs">Sanidad.</text>
<text x="279.61" y="668.00" font-size="21.5" fill="#111" stroke="#111" stroke-width="0.60" stroke-linejoin="round" textLength="42.53" lengthAdjust="spacingAndGlyphs">*Test</text>
<text x="328.12" y="668.00" font-size="21.5" fill="#111" stroke="#111" stroke-width="0.60" stroke-linejoin="round" textLength="88.08" lengthAdjust="spacingAndGlyphs">realizados</text>
<text x="422.12" y="668.00" font-size="21.5" fill="#111" stroke="#111" stroke-width="0.60" stroke-linejoin="round" textLength="24.83" lengthAdjust="spacingAndGlyphs">del</text>
<text x="452.37" y="668.00" font-size="21.5" fill="#111" stroke="#111" stroke-width="0.60" stroke-linejoin="round" textLength="10.67" lengthAdjust="spacingAndGlyphs">8</text>
<text x="469.63" y="668.00" font-size="21.5" fill="#111" stroke="#111" stroke-width="0.60" stroke-linejoin="round" textLength="15.94" lengthAdjust="spacingAndGlyphs">al</text>
<text x="490.78" y="668.00" font-size="21.5" fill="#111" stroke="#111" stroke-width="0.60" stroke-linejoin="round" textLength="20.45" lengthAdjust="spacingAndGlyphs">22</text>
<text x="516.54" y="668.00" font-size="21.5" fill="#111" stroke="#111" stroke-width="0.60" stroke-linejoin="round" textLength="20.17" lengthAdjust="spacingAndGlyphs">de</text>
<text x="541.68" y="668.00" font-size="21.5" fill="#111" stroke="#111" stroke-width="0.60" stroke-linejoin="round" textLength="41.85" lengthAdjust="spacingAndGlyphs">junio</text>
<text x="974.30" y="668.00" font-size="21.5" font-weight="bold" fill="#111" textLength="78.82" lengthAdjust="spacingAndGlyphs">GRÁFICO</text>
<text x="1052.98" y="668.00" font-size="21.5" fill="#111" stroke="#111" stroke-width="0.60" stroke-linejoin="round" textLength="5.54" lengthAdjust="spacingAndGlyphs">:</text>
<text x="1062.82" y="668.00" font-size="21.5" fill="#111" stroke="#111" stroke-width="0.60" stroke-linejoin="round" textLength="49.18" lengthAdjust="spacingAndGlyphs">Henar</text>
<text x="1119.59" y="668.00" font-size="21.5" fill="#111" stroke="#111" stroke-width="0.60" stroke-linejoin="round" textLength="18.87" lengthAdjust="spacingAndGlyphs">de</text>
<text x="1145.80" y="668.00" font-size="21.5" fill="#111" stroke="#111" stroke-width="0.60" stroke-linejoin="round" textLength="48.66" lengthAdjust="spacingAndGlyphs">Pedro</text>
</svg></body></html>
